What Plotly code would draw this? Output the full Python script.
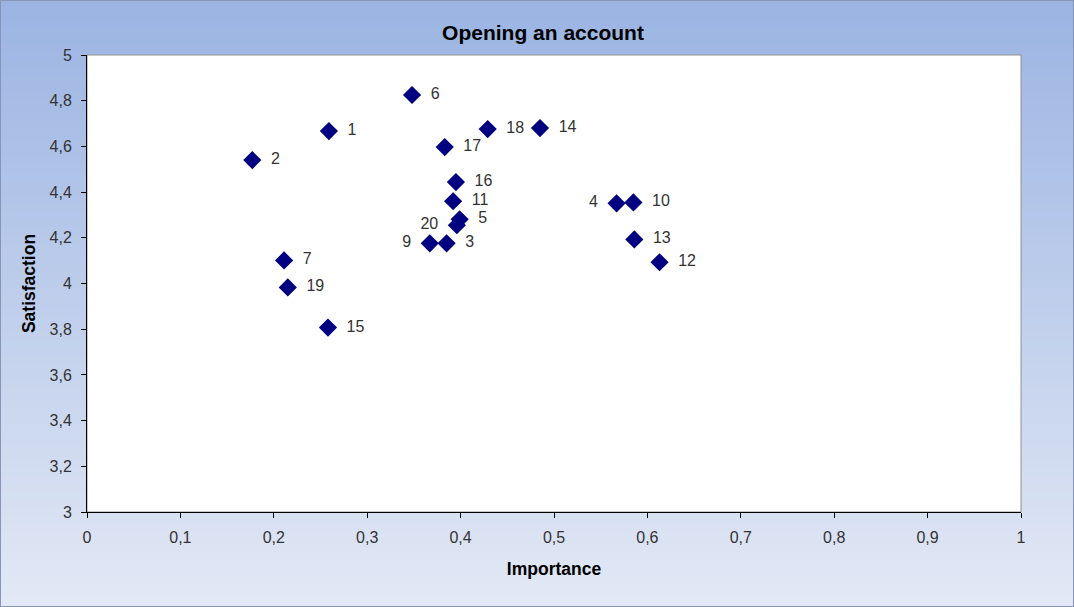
import plotly.graph_objects as go

labels = ["1", "2", "3", "4", "5", "6", "7", "9", "10", "11", "12", "13", "14", "15", "16", "17", "18", "19", "20"]
importance = [0.259, 0.177, 0.385, 0.567, 0.399, 0.348, 0.211, 0.367, 0.585, 0.392, 0.613, 0.586, 0.485, 0.258, 0.395, 0.383, 0.429, 0.215, 0.396]
satisfaction = [4.667, 4.540, 4.176, 4.351, 4.281, 4.825, 4.101, 4.176, 4.355, 4.360, 4.093, 4.193, 4.680, 3.807, 4.444, 4.597, 4.676, 3.983, 4.255]
left_labels = {"4", "9", "20"}

positions = ["middle left" if l in left_labels else "middle right" for l in labels]
texts = [(l + "  ") if l in left_labels else ("  " + l) for l in labels]

font = "Liberation Sans, Arial, sans-serif"

fig = go.Figure()
fig.add_trace(go.Scatter(
    x=importance, y=satisfaction, mode="markers+text",
    text=texts, textposition=positions,
    textfont=dict(family=font, size=16, color="#333333"),
    marker=dict(symbol="diamond", size=14, color="#000080", line=dict(width=0)),
    cliponaxis=False, hoverinfo="skip",
))

W, H = 1074, 607
ML, MR, MT, MB = 87, 53, 55, 95
PW, PH = W - ML - MR, H - MT - MB
px0, px1 = -ML / PW, 1 + MR / PW
py0, py1 = -MB / PH, 1 + MT / PH

# gradient background over the whole figure
shapes = []
n = 80
top = (155, 180, 226)
bot = (226, 232, 245)
for i in range(n):
    t = i / (n - 1)
    c = tuple(round(top[k] + (bot[k] - top[k]) * t) for k in range(3))
    ya = py1 - (py1 - py0) * i / n
    yb = py1 - (py1 - py0) * (i + 1) / n
    shapes.append(dict(type="rect", xref="paper", yref="paper", x0=px0, x1=px1,
                       y0=yb - 0.003, y1=ya + 0.003, layer="below", line=dict(width=0),
                       fillcolor="rgb(%d,%d,%d)" % c))
# plot area
shapes.append(dict(type="rect", xref="x domain", yref="y domain", x0=0, x1=1, y0=0, y1=1,
                   layer="below", fillcolor="white", line=dict(color="#909090", width=1)))
# outer frame
shapes.append(dict(type="rect", xref="paper", yref="paper", x0=px0, x1=px1,
                   y0=py0, y1=py1, layer="above", fillcolor="rgba(0,0,0,0)",
                   line=dict(color="#8796b8", width=2)))

fig.update_layout(
    width=W, height=H,
    margin=dict(l=ML, r=MR, t=MT, b=MB),
    paper_bgcolor="rgb(190,206,236)",
    plot_bgcolor="white",
    separators=", ",
    showlegend=False,
    shapes=shapes,
    title=dict(text="<b>Opening an account</b>", x=(543 - ML) / PW, xref="paper", xanchor="center",
               y=1 - 33 / H, yanchor="middle",
               font=dict(family=font, size=21, color="black")),
    xaxis=dict(range=[0, 1], dtick=0.1, tick0=0, showgrid=False, zeroline=False,
               showline=True, linecolor="black", linewidth=1, ticks="outside", ticklen=5,
               tickcolor="black", tickformat=".1~f", ticklabelstandoff=6,
               tickfont=dict(family=font, size=16, color="#333333"),
               title=dict(text="<b>Importance</b>", font=dict(family=font, size=17.5, color="black"), standoff=17)),
    yaxis=dict(range=[3, 5], dtick=0.2, tick0=3, showgrid=False, zeroline=False,
               showline=True, linecolor="black", linewidth=1, ticks="outside", ticklen=5,
               tickcolor="black", tickformat=".1~f", ticklabelstandoff=6,
               tickfont=dict(family=font, size=16, color="#333333"),
               title=dict(text="<b>Satisfaction</b>", font=dict(family=font, size=17.5, color="black"), standoff=9)),
)
fig.write_html("out.html")
